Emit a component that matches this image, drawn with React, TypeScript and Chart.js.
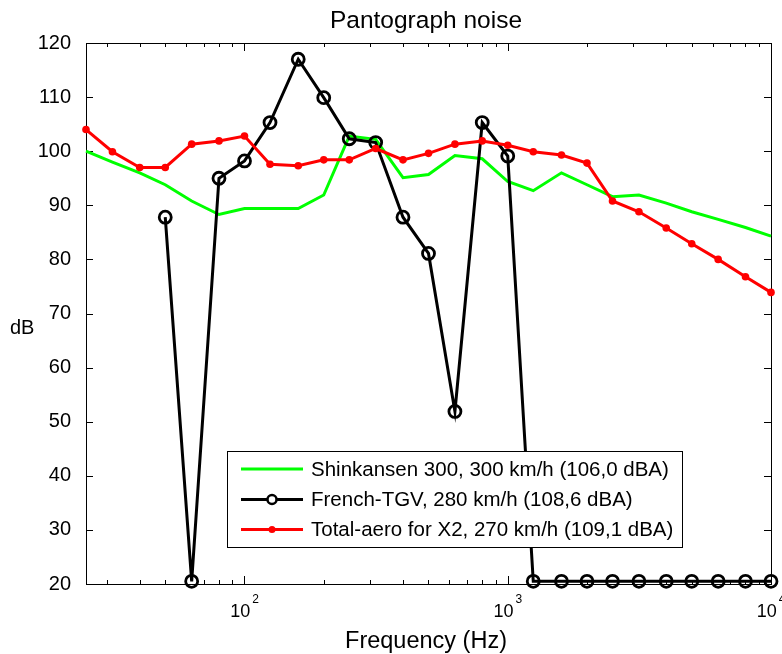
import React, { useEffect, useRef } from "react";
import { Chart, registerables } from "chart.js";

Chart.register(...registerables);

// 1/3-octave band centre frequencies (Hz)
const frequencies = [25, 31.5, 40, 50, 63, 80, 100, 125, 160, 200, 250, 315, 400, 500, 630, 800, 1000, 1250, 1600, 2000, 2500, 3150, 4000, 5000, 6300, 8000, 10000];

const shinkansen = [100.0, 98.0, 96.0, 93.8, 90.8, 88.3, 89.4, 89.4, 89.4, 91.9, 102.8, 102.2, 95.1, 95.7, 99.2, 98.6, 94.4, 92.7, 96.0, 93.8, 91.6, 91.9, 90.4, 88.8, 87.4, 85.9, 84.3];

const frenchTgv = [null, null, null, 87.8, 20.5, 95.0, 98.2, 105.3, 117.0, 109.9, 102.3, 101.6, 87.8, 81.1, 51.9, 105.3, 99.1, 20.5, 20.5, 20.5, 20.5, 20.5, 20.5, 20.5, 20.5, 20.5, 20.5];

const totalAero = [104.0, 99.9, 97.0, 97.0, 101.3, 101.9, 102.8, 97.6, 97.3, 98.4, 98.4, 100.5, 98.4, 99.6, 101.3, 101.9, 101.1, 99.9, 99.3, 97.8, 90.8, 88.8, 85.8, 82.9, 80.0, 76.8, 73.9];

const yTickValues = [20, 30, 40, 50, 60, 70, 80, 90, 100, 110, 120];
const xMajorTicks = [100, 1000, 10000];
const xMajorExponents = ["2", "3", "4"];

const seriesLabels = [
  "Shinkansen 300, 300 km/h (106,0 dBA)",
  "French-TGV, 280 km/h (108,6 dBA)",
  "Total-aero for X2, 270 km/h (109,1 dBA)",
];
const titleText = "Pantograph noise";
const xAxisTitle = "Frequency (Hz)";
const yAxisTitle = "dB";

const FONT = '"Liberation Sans", Arial, Helvetica, sans-serif';
const GREEN = "#00ff00";
const RED = "#ff0000";
const BLACK = "#000000";

const toPoints = (vals: (number | null)[]) =>
  frequencies
    .map((f, i) => ({ x: f, y: vals[i] }))
    .filter((p) => p.y !== null) as { x: number; y: number }[];

const decorPlugin = {
  id: "decor",
  beforeDatasetsDraw(chart: any) {
    const { ctx, chartArea: a, scales } = chart;
    ctx.save();
    ctx.strokeStyle = BLACK;
    ctx.lineWidth = 1;
    ctx.strokeRect(Math.round(a.left) + 0.5, Math.round(a.top) + 0.5, Math.round(a.right - a.left), Math.round(a.bottom - a.top));
    ctx.beginPath();
    for (const v of yTickValues) {
      const y = Math.round(scales.y.getPixelForValue(v)) + 0.5;
      ctx.moveTo(a.left, y);
      ctx.lineTo(a.left + 7, y);
      ctx.moveTo(a.right - 7, y);
      ctx.lineTo(a.right, y);
    }
    for (let k = 1; k <= 4; k++) {
      for (let m = 1; m <= 9; m++) {
        const f = m * Math.pow(10, k);
        if (f < 25 || f > 10000) continue;
        const x = Math.round(scales.x.getPixelForValue(f)) + 0.5;
        const len = m === 1 ? 8 : 4;
        ctx.moveTo(x, a.top);
        ctx.lineTo(x, a.top + len);
        ctx.moveTo(x, a.bottom);
        ctx.lineTo(x, a.bottom - len);
      }
    }
    ctx.stroke();
    ctx.restore();
  },
  afterDraw(chart: any) {
    const { ctx, chartArea: a, scales } = chart;
    ctx.save();
    ctx.fillStyle = BLACK;
    // title
    ctx.font = `24.5px ${FONT}`;
    ctx.textAlign = "center";
    ctx.textBaseline = "alphabetic";
    ctx.fillText(titleText, 426, 28);
    // x axis title
    ctx.font = `23.5px ${FONT}`;
    ctx.fillText(xAxisTitle, 426, 648);
    // y axis title (horizontal, as in the reference)
    ctx.font = `20px ${FONT}`;
    ctx.textAlign = "left";
    ctx.textBaseline = "middle";
    ctx.fillText(yAxisTitle, 10, 328);
    // x tick labels with superscript exponent
    xMajorTicks.forEach((f, i) => {
      const px = scales.x.getPixelForValue(f);
      ctx.font = `18px ${FONT}`;
      const wBase = ctx.measureText("10").width;
      ctx.font = `12px ${FONT}`;
      const wExp = ctx.measureText(xMajorExponents[i]).width;
      const start = px - (wBase + 2 + wExp) / 2;
      ctx.textAlign = "left";
      ctx.textBaseline = "alphabetic";
      ctx.font = `18px ${FONT}`;
      ctx.fillText("10", start, 617);
      ctx.font = `12px ${FONT}`;
      ctx.fillText(xMajorExponents[i], start + wBase + 2, 603);
    });
    // legend
    const bx = 227.5, by = 451.5, bw = 455, bh = 96;
    ctx.fillStyle = "#ffffff";
    ctx.fillRect(bx, by, bw, bh);
    ctx.strokeStyle = BLACK;
    ctx.lineWidth = 1;
    ctx.strokeRect(bx, by, bw, bh);
    const rows = [469, 499.5, 529.5];
    const colors = [GREEN, BLACK, RED];
    rows.forEach((ry, i) => {
      ctx.strokeStyle = colors[i];
      ctx.lineWidth = 3;
      ctx.beginPath();
      ctx.moveTo(241, ry);
      ctx.lineTo(303, ry);
      ctx.stroke();
      if (i === 1) {
        ctx.fillStyle = "#ffffff";
        ctx.beginPath();
        ctx.arc(272, ry, 4.5, 0, Math.PI * 2);
        ctx.fill();
        ctx.strokeStyle = BLACK;
        ctx.lineWidth = 2.5;
        ctx.stroke();
      }
      if (i === 2) {
        ctx.fillStyle = RED;
        ctx.beginPath();
        ctx.arc(272, ry, 3.5, 0, Math.PI * 2);
        ctx.fill();
      }
      ctx.fillStyle = BLACK;
      ctx.font = `20.5px ${FONT}`;
      ctx.textAlign = "left";
      ctx.textBaseline = "middle";
      ctx.fillText(seriesLabels[i], 311, ry + 1);
    });
    ctx.restore();
  },
};

export default function App() {
  const canvasRef = useRef<HTMLCanvasElement | null>(null);

  useEffect(() => {
    document.body.style.margin = "0";
    const canvas = canvasRef.current;
    if (!canvas) return;
    const chart = new Chart(canvas, {
      type: "line",
      data: {
        datasets: [
          {
            label: seriesLabels[0],
            data: toPoints(shinkansen),
            borderColor: GREEN,
            backgroundColor: GREEN,
            borderWidth: 3,
            pointRadius: 0,
            tension: 0,
            order: 3,
            clip: false as any,
          },
          {
            label: seriesLabels[1],
            data: toPoints(frenchTgv),
            borderColor: BLACK,
            backgroundColor: "rgba(0,0,0,0)",
            borderWidth: 3,
            pointRadius: 6,
            pointBorderWidth: 2.8,
            pointBorderColor: BLACK,
            pointBackgroundColor: "rgba(0,0,0,0)",
            tension: 0,
            order: 2,
            clip: false as any,
          },
          {
            label: seriesLabels[2],
            data: toPoints(totalAero),
            borderColor: RED,
            backgroundColor: RED,
            borderWidth: 3,
            pointRadius: 3.8,
            pointBorderWidth: 0,
            pointBackgroundColor: RED,
            tension: 0,
            order: 1,
            clip: false as any,
          },
        ],
      },
      options: {
        responsive: false,
        animation: false,
        layout: { padding: { top: 43, right: 11, left: 0, bottom: 0 } },
        plugins: {
          legend: { display: false },
          title: { display: false },
          tooltip: { enabled: false },
        },
        scales: {
          x: {
            type: "logarithmic",
            min: 25,
            max: 10000,
            grid: { display: false },
            border: { display: false },
            ticks: { display: false },
            afterFit: (s: any) => {
              s.height = 70;
            },
          },
          y: {
            type: "linear",
            min: 20,
            max: 120,
            grid: { display: false },
            border: { display: false },
            ticks: {
              stepSize: 10,
              color: BLACK,
              padding: 7,
              font: { family: FONT, size: 20 },
            },
            afterFit: (s: any) => {
              s.width = 86;
            },
          },
        },
      },
      plugins: [decorPlugin],
    } as any);
    return () => chart.destroy();
  }, []);

  return (
    <div style={{ width: 782, height: 654 }}>
      <canvas ref={canvasRef} width={782} height={654} style={{ display: "block" }} />
    </div>
  );
}
